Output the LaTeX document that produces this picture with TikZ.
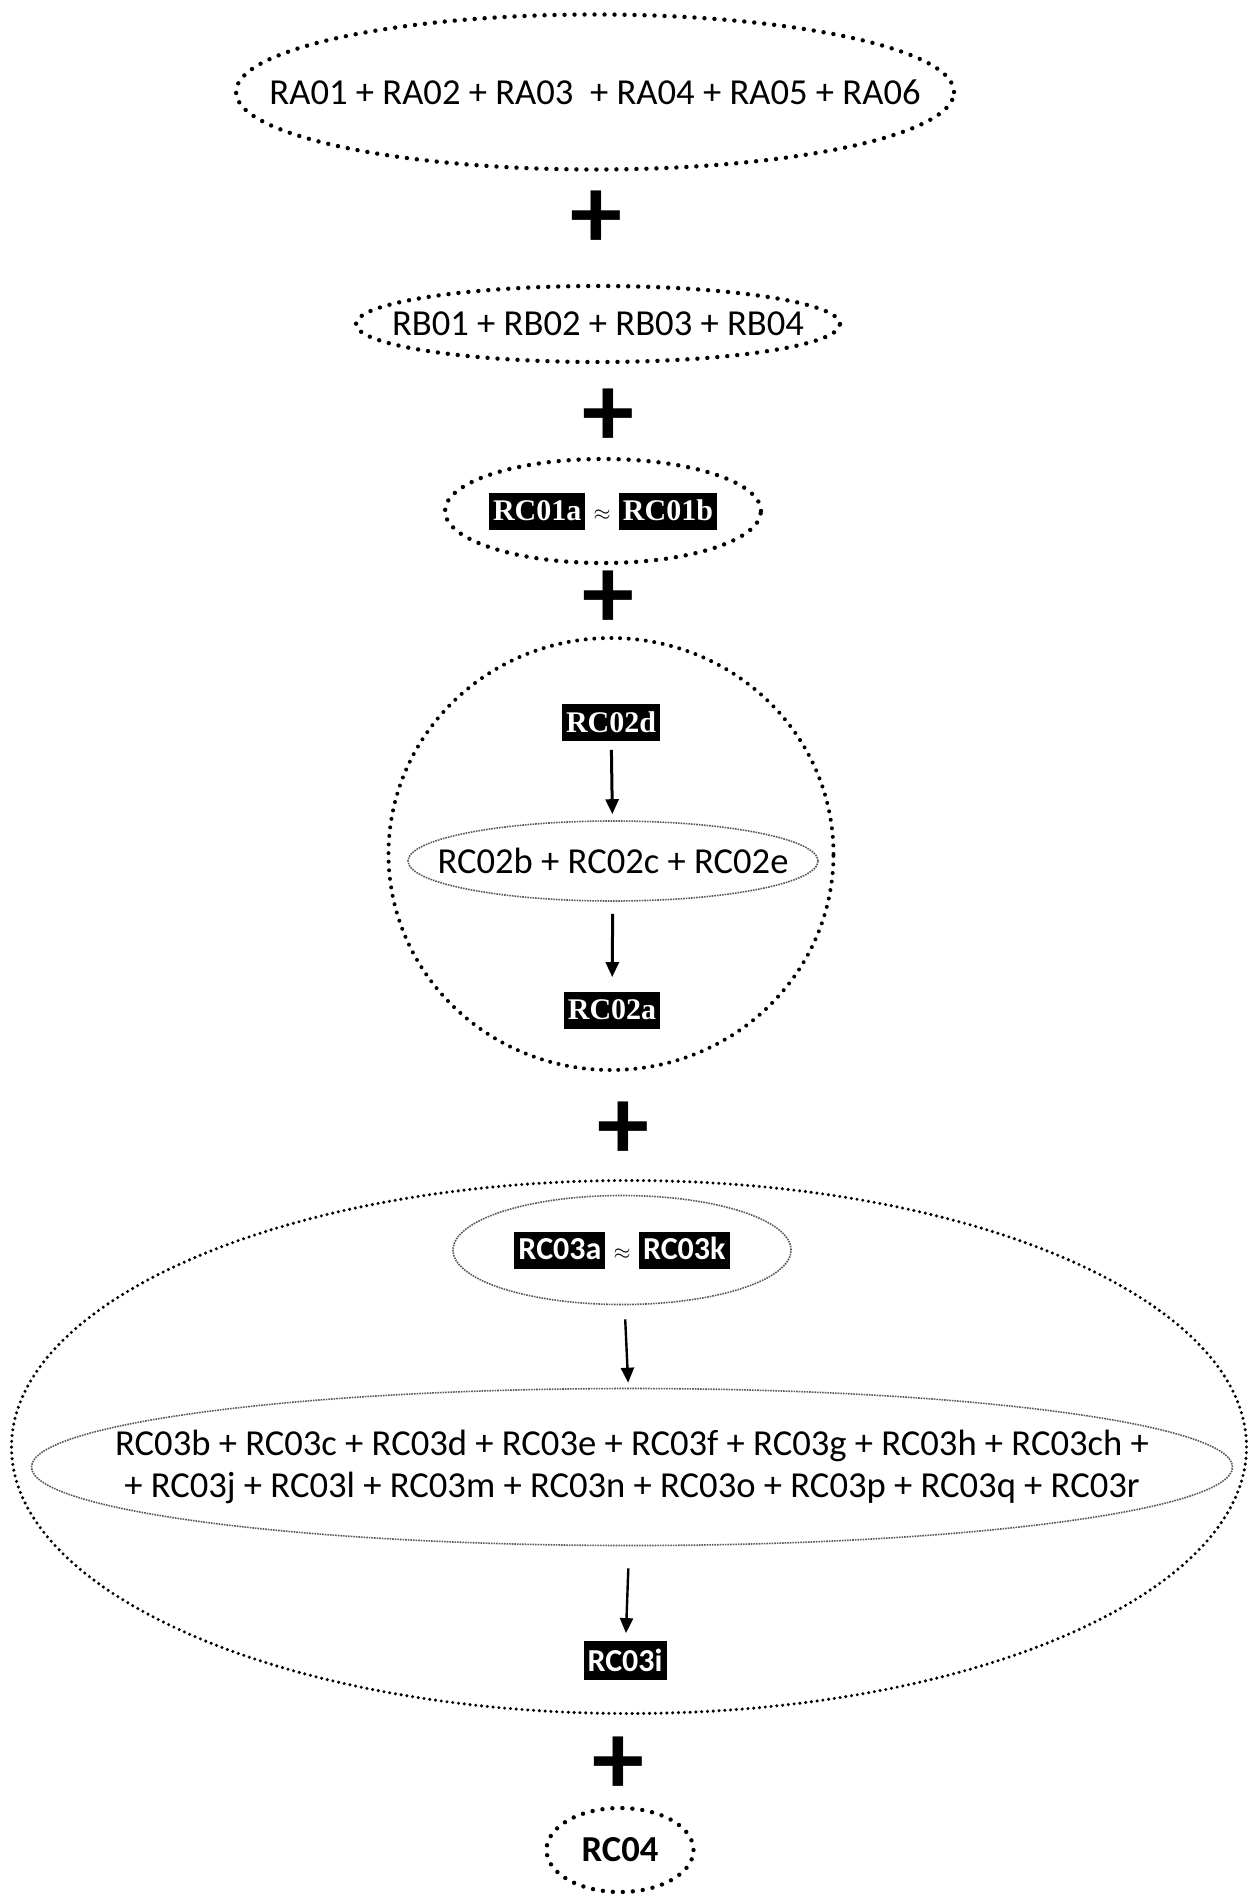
\documentclass[tikz,border=0pt]{standalone}
\usepackage{fontspec}
\setmainfont{Carlito}
\newfontfamily\capfont{Liberation Serif}
\usepackage{tikz}
\usetikzlibrary{arrows.meta,shapes.geometric}

\newcommand{\darkbox}[1]{{\setlength{\fboxsep}{2pt}\colorbox{black}{\rule[-2.5pt]{0pt}{14.5pt}\textcolor{white}{#1}}}}
\newcommand{\apx}{{\fontsize{11}{12}\selectfont$\approx$}}

\begin{document}
\begin{tikzpicture}[
x=0.5pt, y=-0.5pt,
font=\fontsize{18.3}{21}\selectfont,
ring/.style={ellipse, draw, line width=2.2pt, line cap=round, dash pattern=on 0pt off 5pt, inner sep=0pt},
inring/.style={ellipse, draw=black!65, line width=0.8pt, dash pattern=on 0.8pt off 0.5pt, inner sep=0pt},
blk/.style={fill=black, text=white, inner xsep=2pt, inner ysep=0pt, minimum height=18.5pt, font=\capfont\bfseries\fontsize{15}{18}\selectfont},
plus/.style={font=\bfseries\fontsize{52}{52}\selectfont, inner sep=0pt},
arr/.style={-{Triangle[length=7.5pt, width=6.5pt]}, line width=1.5pt}
]
\useasboundingbox (0,0) rectangle (1249,1894);

\node[ring, minimum width=359pt, minimum height=77.5pt, label=center:{RA01 + RA02 + RA03 \ + RA04 + RA05 + RA06}] (ra) at (595,92) {};
\node[plus] (p1) at (596,220) {+};
\node[ring, minimum width=242pt, minimum height=38pt, label=center:{RB01 + RB02 + RB03 + RB04}] (rb) at (598,324) {};
\node[plus] (p2) at (608,418) {+};
\node[ring, minimum width=158pt, minimum height=52pt, label=center:{\darkbox{\capfont\bfseries\fontsize{15}{18}\selectfont RC01a} \apx\ \darkbox{\capfont\bfseries\fontsize{15}{18}\selectfont RC01b}}] (rc1) at (603,511) {};
\node[plus] (p3) at (608,600) {+};

\node[ring, line width=2pt, dash pattern=on 0pt off 4.3pt, minimum width=222.5pt, minimum height=216pt] (rc2) at (611,854) {};
\node[blk] (rc2d) at (611,722) {RC02d};
\node[inring, minimum width=205pt, minimum height=40pt, label=center:{RC02b + RC02c + RC02e}] (rc2m) at (613,861) {};
\node[blk] (rc2a) at (612,1010) {RC02a};
\draw[arr, shorten <=4.5pt, shorten >=3pt] (rc2d) -- (rc2m);
\draw[arr, shorten <=6pt, shorten >=7pt] (rc2m) -- (rc2a);

\node[plus] (p4) at (623,1131) {+};

\node[ring, line width=1.7pt, dash pattern=on 0pt off 2.9pt, minimum width=617.5pt, minimum height=266.5pt] (rc3) at (629,1447) {};
\node[inring, minimum width=169pt, minimum height=54.5pt, label=center:{\darkbox{\bfseries\fontsize{16}{18}\selectfont RC03a} \apx\ \darkbox{\bfseries\fontsize{16}{18}\selectfont RC03k}}] (rc3k) at (622,1250) {};
\node[inring, minimum width=600.5pt, minimum height=78.5pt, label={[align=center]center:{RC03b + RC03c + RC03d + RC03e + RC03f + RC03g + RC03h + RC03ch +\\+ RC03j + RC03l + RC03m + RC03n + RC03o + RC03p + RC03q + RC03r}}] (rc3m) at (632,1467) {};
\node[blk, minimum height=19.5pt, font=\bfseries\fontsize{16}{18}\selectfont] (rc3i) at (625,1660) {RC03i};
\draw[arr, line width=1.2pt, shorten <=7pt, shorten >=2.5pt] (rc3k) -- (rc3m);
\draw[arr, line width=1.2pt, shorten <=11pt, shorten >=3.5pt] (rc3m) -- (rc3i);

\node[plus] (p5) at (618,1766) {+};
\node[ring, minimum width=73.5pt, minimum height=42pt, label=center:{\bfseries RC04}] (rc4) at (620,1850) {};
\end{tikzpicture}
\end{document}
